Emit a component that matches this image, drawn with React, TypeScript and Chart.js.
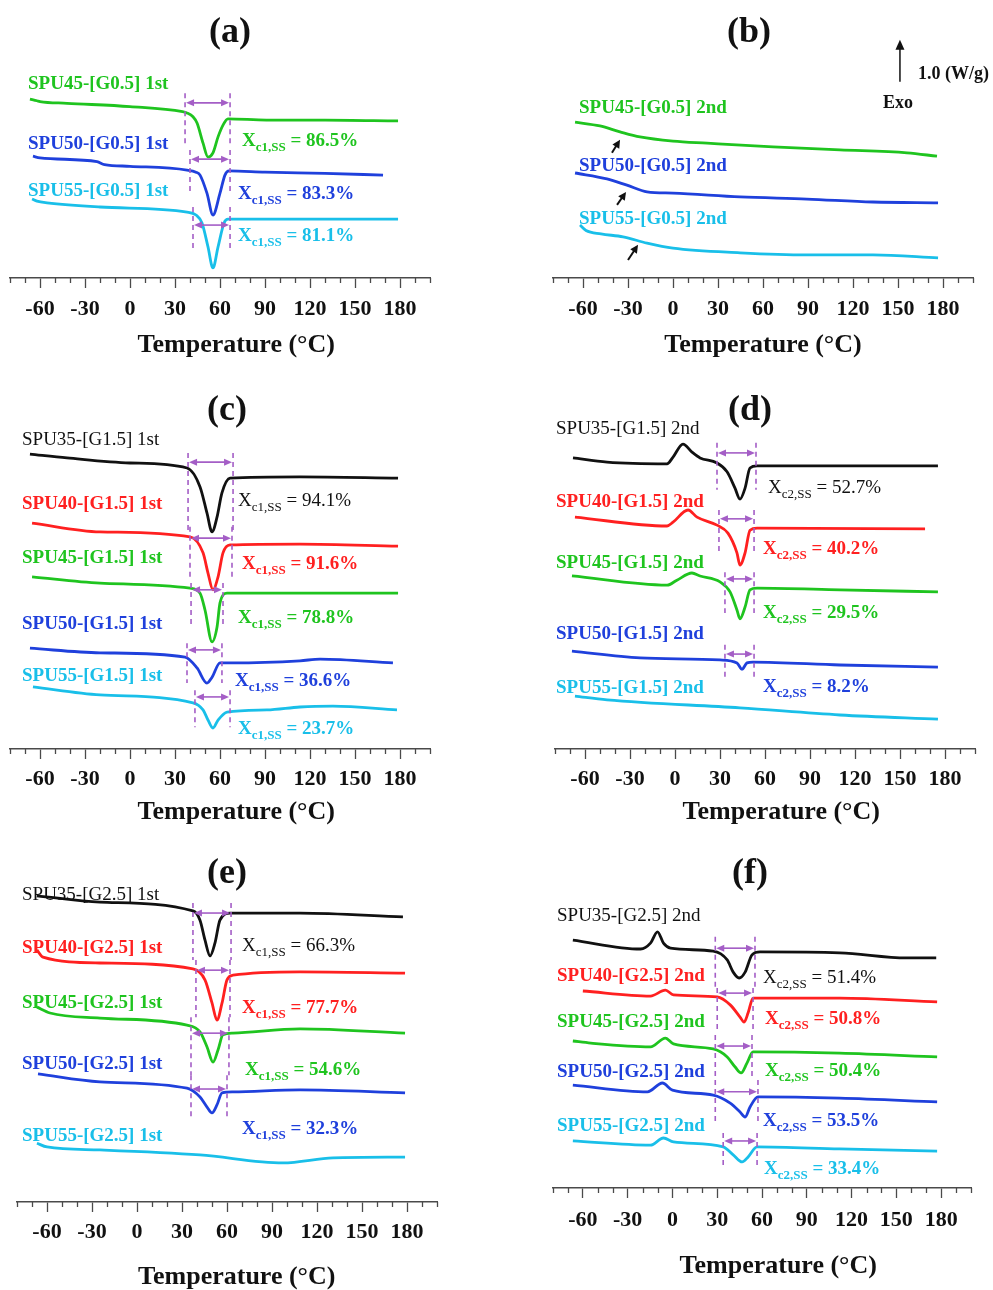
import React, { useEffect, useRef } from 'react';
import { Chart, registerables } from 'chart.js';

Chart.register(...registerables);

type Pt = [number, number];
// [T start, T end, top, bottom, arrow level]
type Range = [number, number, number, number, number];
// [tail T, tail value, head T, head value]
type Arrow = [number, number, number, number];

// ---------------- axis ----------------
const X_MIN = -80;
const X_MAX = 200;
const X_STEP = 10;
const X_TICK_LABELS = [-60, -30, 0, 30, 60, 90, 120, 150, 180];
const X_TITLE = 'Temperature (°C)';

// ---------------- (a) 1st heating, G0.5 ----------------
const A_SAMPLES = ['SPU45', 'SPU50', 'SPU55'];
const A_XC = [86.5, 83.3, 81.1];
const A_SPU45: Pt[] = [[-66.7, 4.26], [-62, 4.22], [-60, 4.2], [-42, 4.16], [0, 4.08], [35, 3.96], [38, 3.93], [42, 3.84], [44.7, 3.69], [48.7, 3.21], [52, 2.88], [55.3, 2.98], [58.7, 3.36], [62, 3.64], [65.3, 3.79], [91, 3.76], [130, 3.76], [178.7, 3.74]];
const A_SPU50: Pt[] = [[-64.7, 2.9], [-60, 2.86], [-22, 2.77], [-17, 2.7], [0, 2.66], [38, 2.57], [44, 2.52], [46.7, 2.45], [51.3, 2.02], [55.3, 1.5], [60, 2.02], [63.3, 2.45], [66, 2.55], [90, 2.52], [130, 2.49], [168.7, 2.45]];
const A_SPU55: Pt[] = [[-65.3, 1.88], [-62, 1.83], [-55.3, 1.79], [-20, 1.69], [38, 1.57], [44, 1.5], [48, 1.31], [52, 0.74], [55.3, 0.24], [58.7, 0.74], [62.7, 1.31], [65.3, 1.4], [100, 1.4], [178.7, 1.4]];
const A_RANGES: Range[] = [[36.7, 66.7, 4.4, 3.21, 4.17], [40, 66.7, 3.05, 2.02, 2.83], [42, 66.7, 1.69, 0.62, 1.26]];

// ---------------- (b) 2nd heating, G0.5 ----------------
const B_SAMPLES = ['SPU45', 'SPU50', 'SPU55'];
const B_SPU45: Pt[] = [[-65.3, 3.71], [-48.7, 3.62], [-35.3, 3.48], [-22, 3.36], [0, 3.26], [22.7, 3.21], [66.7, 3.12], [111.3, 3.05], [156, 2.98], [176, 2.9]];
const B_SPU50: Pt[] = [[-65.3, 2.5], [-44, 2.36], [-30.7, 2.21], [-17.3, 2.05], [0, 2.02], [44.7, 1.93], [89.3, 1.88], [133.3, 1.81], [176.7, 1.79]];
const B_SPU55: Pt[] = [[-62, 1.26], [-58, 1.13], [-48, 1.05], [-33.3, 0.98], [-17.3, 0.83], [0, 0.71], [44.7, 0.6], [89.3, 0.55], [133.3, 0.55], [176.7, 0.48]];
const B_TG_ARROWS: Arrow[] = [[-40.7, 2.98, -35.3, 3.29], [-37.3, 1.74, -31.3, 2.05], [-30, 0.43, -23.3, 0.79]];
const B_SCALE_BAR: Pt[] = [[151.3, 4.67], [151.3, 5.67]]; // 1.0 W/g, Exo up

// ---------------- (c) 1st heating, G1.5 ----------------
const C_SAMPLES = ['SPU35', 'SPU40', 'SPU45', 'SPU50', 'SPU55'];
const C_XC = [94.1, 91.6, 78.8, 36.6, 23.7];
const C_SPU35: Pt[] = [[-66.7, 7.02], [-42, 6.93], [0, 6.81], [38, 6.69], [46.7, 6.24], [51.3, 5.62], [54.7, 5.17], [58, 5.52], [61.3, 6.1], [66.7, 6.45], [113.3, 6.48], [178.7, 6.45]];
const C_SPU40: Pt[] = [[-65.3, 5.38], [-20, 5.17], [40, 5.05], [48.7, 4.67], [52, 4.19], [55.3, 3.79], [58.7, 4.1], [62, 4.67], [66.7, 4.86], [113.3, 4.88], [178.7, 4.83]];
const C_SPU45: Pt[] = [[-65.3, 4.1], [-20, 3.95], [40, 3.83], [46.7, 3.71], [50, 3.31], [54.7, 2.55], [58, 2.9], [60, 3.48], [64.7, 3.71], [113.3, 3.71], [178.7, 3.71]];
const C_SPU50: Pt[] = [[-66.7, 2.4], [-20, 2.29], [36.7, 2.19], [44.7, 1.93], [51.3, 1.57], [54.7, 1.71], [60, 2.05], [68.7, 2.05], [113.3, 2.1], [126.7, 2.14], [175.3, 2.05]];
const C_SPU55: Pt[] = [[-64.7, 1.48], [-20, 1.29], [42, 1.1], [48.7, 0.93], [52, 0.69], [55.3, 0.5], [58.7, 0.69], [64.7, 0.88], [91.3, 0.93], [113.3, 1.0], [135.3, 1.02], [178, 0.93]];
const C_RANGES: Range[] = [[38.7, 68.7, 7.05, 5.21, 6.83], [40, 68, 5.29, 4.1, 5.02], [40.7, 62, 3.95, 2.9, 3.79], [38, 61.3, 2.52, 1.57, 2.36], [43.3, 66.7, 1.4, 0.52, 1.24]];

// ---------------- (d) 2nd heating, G1.5 ----------------
const D_SAMPLES = ['SPU35', 'SPU40', 'SPU45', 'SPU50', 'SPU55'];
const D_XC = [52.7, 40.2, 29.5, 8.2];
const D_SPU35: Pt[] = [[-68, 6.93], [-45.3, 6.83], [-5.3, 6.79], [-1.3, 6.95], [5.3, 7.26], [11.3, 7.07], [16.7, 6.93], [28, 6.81], [34.7, 6.6], [40, 6.21], [43.3, 5.95], [46.7, 6.21], [50, 6.69], [54.7, 6.74], [175.3, 6.74]];
const D_SPU40: Pt[] = [[-66.7, 5.52], [-5.3, 5.31], [-1.3, 5.4], [8.7, 5.69], [14.7, 5.52], [28, 5.33], [35.3, 5.14], [41.3, 4.67], [43.3, 4.38], [46.7, 4.67], [50, 5.21], [54.7, 5.26], [166.7, 5.24]];
const D_SPU45: Pt[] = [[-68.7, 4.12], [-5.3, 3.9], [1.3, 4.02], [11.3, 4.19], [16.7, 4.12], [30, 3.98], [36.7, 3.74], [41.3, 3.31], [43.3, 3.1], [46.7, 3.38], [50, 3.79], [54.7, 3.83], [110, 3.79], [175.3, 3.74]];
const D_SPU50: Pt[] = [[-68.7, 2.33], [-23.3, 2.17], [30, 2.12], [41.3, 2.05], [44.7, 1.9], [48, 2.05], [52, 2.07], [110, 2.0], [175.3, 1.95]];
const D_SPU55: Pt[] = [[-66.7, 1.26], [-45.3, 1.17], [43.3, 0.98], [110, 0.81], [175.3, 0.71]];
const D_RANGES: Range[] = [[28, 54, 7.29, 6.17, 7.05], [29.3, 52.7, 5.69, 4.67, 5.48], [33.3, 52.7, 4.21, 3.24, 4.05], [33.3, 52.7, 2.48, 1.71, 2.26]];

// ---------------- (e) 1st heating, G2.5 ----------------
const E_SAMPLES = ['SPU35', 'SPU40', 'SPU45', 'SPU50', 'SPU55'];
const E_XC = [66.3, 77.7, 54.6, 32.3];
const E_SPU35: Pt[] = [[-66.7, 7.29], [-24.7, 7.14], [37.3, 6.93], [42, 6.71], [45.3, 6.24], [48.7, 5.86], [52, 6.17], [55.3, 6.71], [62, 6.88], [108.7, 6.88], [177.3, 6.79]];
const E_SPU40: Pt[] = [[-66.7, 6.0], [-62.7, 5.83], [-24.7, 5.69], [37.3, 5.55], [45.3, 5.29], [50, 4.74], [53.3, 4.33], [56.7, 4.74], [60, 5.29], [64, 5.4], [108.7, 5.48], [178.7, 5.45]];
const E_SPU45: Pt[] = [[-66.7, 4.64], [-58, 4.5], [-24.7, 4.38], [33.3, 4.21], [42, 4.05], [46.7, 3.69], [50.7, 3.33], [54, 3.62], [57.3, 3.98], [64, 4.02], [108.7, 4.12], [178.7, 4.02]];
const E_SPU50: Pt[] = [[-66, 3.05], [-24.7, 2.86], [33.3, 2.71], [42, 2.5], [46.7, 2.26], [50, 2.12], [53.3, 2.31], [56.7, 2.6], [64, 2.62], [108.7, 2.67], [178.7, 2.6]];
const E_SPU55: Pt[] = [[-66.7, 1.4], [-60, 1.31], [-24.7, 1.24], [42, 1.12], [97.3, 0.93], [130.7, 1.05], [178.7, 1.07]];
const E_RANGES: Range[] = [[37.3, 62.7, 7.12, 5.76, 6.88], [39.3, 62, 5.76, 4.4, 5.52], [36, 61.3, 4.4, 3.02, 4.02], [36, 60, 3.02, 2.02, 2.69]];

// ---------------- (f) 2nd heating, G2.5 ----------------
const F_SAMPLES = ['SPU35', 'SPU40', 'SPU45', 'SPU50', 'SPU55'];
const F_XC = [51.4, 50.8, 50.4, 53.5, 33.4];
const F_SPU35: Pt[] = [[-66.7, 5.9], [-21.3, 5.69], [-14.7, 5.83], [-10, 6.1], [-6, 5.83], [-1.3, 5.71], [27.3, 5.64], [36.7, 5.43], [40.7, 5.14], [44.7, 5.0], [48.7, 5.14], [53.3, 5.55], [58.7, 5.62], [112, 5.6], [156.7, 5.48], [176.7, 5.48]];
const F_SPU40: Pt[] = [[-60, 4.69], [-14.7, 4.57], [-4.7, 4.71], [0.7, 4.6], [30, 4.55], [38.7, 4.36], [45.3, 4.07], [48, 3.95], [50.7, 4.17], [54, 4.52], [112, 4.52], [177.3, 4.43]];
const F_SPU45: Pt[] = [[-66.7, 3.5], [-54.7, 3.45], [-14.7, 3.36], [-4.7, 3.57], [0.7, 3.43], [27.3, 3.31], [36.7, 3.12], [42, 2.88], [46, 2.74], [50, 2.98], [54, 3.24], [112, 3.21], [177.3, 3.12]];
const F_SPU50: Pt[] = [[-66.7, 2.45], [-16.7, 2.29], [-6.7, 2.5], [0, 2.33], [27.3, 2.21], [38.7, 2.02], [45.3, 1.81], [48.7, 1.69], [52, 1.93], [57.3, 2.17], [112, 2.14], [177.3, 2.05]];
const F_SPU55: Pt[] = [[-66.7, 1.12], [-14.7, 1.02], [-6, 1.19], [0.7, 1.1], [34, 0.98], [40.7, 0.79], [46.7, 0.62], [50.7, 0.74], [56.7, 0.98], [112, 0.93], [177.3, 0.88]];
const F_RANGES: Range[] = [[28.7, 55.3, 5.98, 4.71, 5.71], [30, 54, 4.76, 3.76, 4.64], [28.7, 53.3, 3.64, 2.64, 3.38], [28.7, 57.3, 2.57, 1.55, 2.29], [34, 56.7, 1.31, 0.55, 1.12]];

// ---------------- styles ----------------
const SERIF = '"Liberation Serif", "Times New Roman", serif';
const GREEN = '#1fc41f';
const BLUE = '#1f40dc';
const CYAN = '#19bfe9';
const RED = '#ff2020';
const BLACK = '#111111';
const PURPLE = '#a45ec6';
const AXIS = '#4a4a4a';
const TICK_FONT = 22;
const TITLE_FONT = 26;

interface TextItem {
  text: string;
  pre?: string;
  sub?: string;
  color: string;
  x: number;
  y: number;
  bold: boolean;
  size?: number;
  align?: 'left' | 'center';
}

interface PanelCfg {
  key: string;
  left: number;
  top: number;
  width: number;
  height: number;
  padL: number;
  padR: number;
  padT: number;
  yMax: number;
  tickPad: number;
  titlePadTop: number;
  titleSpaces: number;
  series: { data: Pt[]; color: string }[];
  ranges: Range[];
  arrows?: Arrow[];
  scaleBar?: Pt[];
  texts: TextItem[];
}

function names(samples: string[], grade: string, scan: string, colors: string[], x: number, ys: number[]): TextItem[] {
  return samples.map((s, i) => ({
    text: `${s}-[${grade}] ${scan}`,
    color: colors[i],
    x,
    y: ys[i],
    bold: colors[i] !== BLACK,
  }));
}

function xcLabels(values: number[], sub: string, colors: string[], pos: [number, number][]): TextItem[] {
  return values.map((v, i) => ({
    pre: 'X',
    sub,
    text: ` = ${v.toFixed(1)}%`,
    color: colors[i],
    x: pos[i][0],
    y: pos[i][1],
    bold: colors[i] !== BLACK,
  }));
}

const COL3 = [GREEN, BLUE, CYAN];
const COL5 = [BLACK, RED, GREEN, BLUE, CYAN];

const PANELS: PanelCfg[] = [
  {
    key: 'a', left: 0, top: 0, width: 460, height: 358, padL: 10, padR: 30, padT: 68, yMax: 5.0,
    tickPad: 10, titlePadTop: 2, titleSpaces: 5,
    series: [{ data: A_SPU45, color: GREEN }, { data: A_SPU50, color: BLUE }, { data: A_SPU55, color: CYAN }],
    ranges: A_RANGES,
    texts: [
      { text: '(a)', color: BLACK, x: 230, y: 30, bold: true, size: 36, align: 'center' },
      ...names(A_SAMPLES, 'G0.5', '1st', COL3, 28, [83, 143, 190]),
      ...xcLabels(A_XC, 'c1,SS', COL3, [[242, 140], [238, 193], [238, 235]]),
    ],
  },
  {
    key: 'b', left: 543, top: 0, width: 450, height: 358, padL: 10, padR: 20, padT: 68, yMax: 5.0,
    tickPad: 10, titlePadTop: 2, titleSpaces: 0,
    series: [{ data: B_SPU45, color: GREEN }, { data: B_SPU50, color: BLUE }, { data: B_SPU55, color: CYAN }],
    ranges: [],
    arrows: B_TG_ARROWS,
    scaleBar: B_SCALE_BAR,
    texts: [
      { text: '(b)', color: BLACK, x: 749, y: 30, bold: true, size: 36, align: 'center' },
      ...names(B_SAMPLES, 'G0.5', '2nd', COL3, 579, [107, 165, 218]),
      { text: '1.0 (W/g)', color: BLACK, x: 918, y: 73, bold: true, size: 18 },
      { text: 'Exo', color: BLACK, x: 898, y: 102, bold: true, size: 18, align: 'center' },
    ],
  },
  {
    key: 'c', left: 0, top: 370, width: 460, height: 455, padL: 10, padR: 30, padT: 43, yMax: 8.0,
    tickPad: 9, titlePadTop: 0, titleSpaces: 5,
    series: [{ data: C_SPU35, color: BLACK }, { data: C_SPU40, color: RED }, { data: C_SPU45, color: GREEN }, { data: C_SPU50, color: BLUE }, { data: C_SPU55, color: CYAN }],
    ranges: C_RANGES,
    texts: [
      { text: '(c)', color: BLACK, x: 227, y: 408, bold: true, size: 36, align: 'center' },
      ...names(C_SAMPLES, 'G1.5', '1st', COL5, 22, [439, 503, 557, 623, 675]),
      ...xcLabels(C_XC, 'c1,SS', COL5, [[238, 500], [242, 563], [238, 617], [235, 680], [238, 728]]),
    ],
  },
  {
    key: 'd', left: 545, top: 370, width: 440, height: 455, padL: 10, padR: 10, padT: 43, yMax: 8.0,
    tickPad: 9, titlePadTop: 0, titleSpaces: 5,
    series: [{ data: D_SPU35, color: BLACK }, { data: D_SPU40, color: RED }, { data: D_SPU45, color: GREEN }, { data: D_SPU50, color: BLUE }, { data: D_SPU55, color: CYAN }],
    ranges: D_RANGES,
    texts: [
      { text: '(d)', color: BLACK, x: 750, y: 408, bold: true, size: 36, align: 'center' },
      ...names(D_SAMPLES, 'G1.5', '2nd', COL5, 556, [428, 501, 562, 633, 687]),
      ...xcLabels(D_XC, 'c2,SS', COL5, [[768, 487], [763, 548], [763, 612], [763, 686]]),
    ],
  },
  {
    key: 'e', left: 7, top: 845, width: 460, height: 445, padL: 10, padR: 30, padT: 42, yMax: 7.5,
    tickPad: 9, titlePadTop: 12, titleSpaces: 3,
    series: [{ data: E_SPU35, color: BLACK }, { data: E_SPU40, color: RED }, { data: E_SPU45, color: GREEN }, { data: E_SPU50, color: BLUE }, { data: E_SPU55, color: CYAN }],
    ranges: E_RANGES,
    texts: [
      { text: '(e)', color: BLACK, x: 227, y: 871, bold: true, size: 36, align: 'center' },
      ...names(E_SAMPLES, 'G2.5', '1st', COL5, 22, [894, 947, 1002, 1063, 1135]),
      ...xcLabels(E_XC, 'c1,SS', COL5, [[242, 945], [242, 1007], [245, 1069], [242, 1128]]),
    ],
  },
  {
    key: 'f', left: 542, top: 845, width: 440, height: 434, padL: 10, padR: 10, padT: 49, yMax: 7.0,
    tickPad: 11, titlePadTop: 11, titleSpaces: 5,
    series: [{ data: F_SPU35, color: BLACK }, { data: F_SPU40, color: RED }, { data: F_SPU45, color: GREEN }, { data: F_SPU50, color: BLUE }, { data: F_SPU55, color: CYAN }],
    ranges: F_RANGES,
    texts: [
      { text: '(f)', color: BLACK, x: 750, y: 871, bold: true, size: 36, align: 'center' },
      ...names(F_SAMPLES, 'G2.5', '2nd', COL5, 557, [915, 975, 1021, 1071, 1125]),
      ...xcLabels(F_XC, 'c2,SS', COL5, [[763, 977], [765, 1018], [765, 1070], [763, 1120], [764, 1168]]),
    ],
  },
];

const isMajor = (v: unknown) => typeof v === 'number' && X_TICK_LABELS.includes(Math.round(v));

function arrowHead(ctx: CanvasRenderingContext2D, x: number, y: number, ang: number, len: number, half: number) {
  const c = Math.cos(ang);
  const s = Math.sin(ang);
  ctx.beginPath();
  ctx.moveTo(x, y);
  ctx.lineTo(x - len * c + half * s, y - len * s - half * c);
  ctx.lineTo(x - len * c - half * s, y - len * s + half * c);
  ctx.closePath();
  ctx.fill();
}

function drawText(ctx: CanvasRenderingContext2D, t: TextItem, ox: number, oy: number) {
  const w = t.bold ? 'bold ' : '';
  const size = t.size ?? 19;
  ctx.save();
  ctx.fillStyle = t.color;
  ctx.textBaseline = 'alphabetic';
  const base = t.y - oy + size * 0.33;
  let x = t.x - ox;
  ctx.font = `${w}${size}px ${SERIF}`;
  if (t.align === 'center') {
    ctx.textAlign = 'center';
    ctx.fillText(t.text, x, base);
    ctx.restore();
    return;
  }
  ctx.textAlign = 'left';
  if (t.pre) {
    ctx.fillText(t.pre, x, base);
    x += ctx.measureText(t.pre).width;
  }
  if (t.sub) {
    ctx.font = `${w}${Math.round(size * 0.68)}px ${SERIF}`;
    ctx.fillText(t.sub, x, base + size * 0.25);
    x += ctx.measureText(t.sub).width;
    ctx.font = `${w}${size}px ${SERIF}`;
  }
  ctx.fillText(t.text, x, base);
  ctx.restore();
}

function makeDecor(p: PanelCfg) {
  return {
    id: 'decor_' + p.key,
    afterDraw(chart: any) {
      const ctx: CanvasRenderingContext2D = chart.ctx;
      const xs = chart.scales.x;
      const ys = chart.scales.y;
      ctx.save();
      // minor ticks
      ctx.strokeStyle = AXIS;
      ctx.lineWidth = 1.3;
      xs.ticks.forEach((t: any) => {
        if (isMajor(t.value)) return;
        const px = Math.round(xs.getPixelForValue(t.value)) + 0.5;
        ctx.beginPath();
        ctx.moveTo(px, xs.top);
        ctx.lineTo(px, xs.top + 5);
        ctx.stroke();
      });
      // crystallisation integration ranges
      p.ranges.forEach(([t1, t2, vt, vb, va]) => {
        const x1 = xs.getPixelForValue(t1);
        const x2 = xs.getPixelForValue(t2);
        const yt = ys.getPixelForValue(vt);
        const yb = ys.getPixelForValue(vb);
        const ya = ys.getPixelForValue(va);
        ctx.strokeStyle = PURPLE;
        ctx.fillStyle = PURPLE;
        ctx.lineWidth = 1.6;
        ctx.setLineDash([5, 4]);
        ctx.beginPath();
        ctx.moveTo(x1, yt);
        ctx.lineTo(x1, yb);
        ctx.moveTo(x2, yt);
        ctx.lineTo(x2, yb);
        ctx.stroke();
        ctx.setLineDash([]);
        ctx.beginPath();
        ctx.moveTo(x1 + 4, ya);
        ctx.lineTo(x2 - 4, ya);
        ctx.stroke();
        arrowHead(ctx, x1 + 1, ya, Math.PI, 8, 3.5);
        arrowHead(ctx, x2 - 1, ya, 0, 8, 3.5);
      });
      // small Tg arrows
      (p.arrows || []).forEach(([tx, tv, hx, hv]) => {
        const x1 = xs.getPixelForValue(tx);
        const y1 = ys.getPixelForValue(tv);
        const x2 = xs.getPixelForValue(hx);
        const y2 = ys.getPixelForValue(hv);
        const ang = Math.atan2(y2 - y1, x2 - x1);
        ctx.strokeStyle = BLACK;
        ctx.fillStyle = BLACK;
        ctx.lineWidth = 2;
        ctx.beginPath();
        ctx.moveTo(x1, y1);
        ctx.lineTo(x2 - 5 * Math.cos(ang), y2 - 5 * Math.sin(ang));
        ctx.stroke();
        arrowHead(ctx, x2, y2, ang, 8, 4);
      });
      // Exo scale bar
      if (p.scaleBar) {
        const [[t0, v0], [t1, v1]] = p.scaleBar;
        const x0 = xs.getPixelForValue(t0);
        const y0 = ys.getPixelForValue(v0);
        const x1 = xs.getPixelForValue(t1);
        const y1 = ys.getPixelForValue(v1);
        ctx.strokeStyle = BLACK;
        ctx.fillStyle = BLACK;
        ctx.lineWidth = 1.5;
        ctx.beginPath();
        ctx.moveTo(x0, y0);
        ctx.lineTo(x1, y1 + 6);
        ctx.stroke();
        arrowHead(ctx, x1, y1, -Math.PI / 2, 10, 4.5);
      }
      ctx.restore();
      p.texts.forEach((t) => drawText(ctx, t, p.left, p.top));
    },
  };
}

function buildConfig(p: PanelCfg): any {
  return {
    type: 'line',
    data: {
      datasets: p.series.map((s) => ({
        data: s.data.map(([x, y]) => ({ x, y })),
        borderColor: s.color,
        borderWidth: 2.8,
        pointRadius: 0,
        fill: false,
        cubicInterpolationMode: 'monotone',
        clip: false,
      })),
    },
    options: {
      responsive: false,
      maintainAspectRatio: false,
      animation: false,
      devicePixelRatio: 1,
      events: [],
      layout: { padding: { left: p.padL, right: p.padR, top: p.padT, bottom: 0 } },
      plugins: {
        legend: { display: false },
        tooltip: { enabled: false },
        title: { display: false },
      },
      scales: {
        x: {
          type: 'linear',
          position: 'bottom',
          min: X_MIN,
          max: X_MAX,
          border: { display: true, color: AXIS, width: 1.5 },
          grid: {
            display: true,
            drawOnChartArea: false,
            drawTicks: true,
            tickLength: 10,
            tickWidth: 1.3,
            tickColor: (c: any) => (isMajor(c.tick && c.tick.value) ? AXIS : 'rgba(0,0,0,0)'),
          },
          ticks: {
            stepSize: X_STEP,
            maxTicksLimit: 100,
            autoSkip: false,
            maxRotation: 0,
            minRotation: 0,
            padding: p.tickPad,
            color: '#111',
            font: { family: SERIF, size: TICK_FONT, weight: 'bold', lineHeight: 1 },
            callback: (v: any) => (isMajor(v) ? String(Math.round(v)) : ''),
          },
          title: {
            display: true,
            text: ' '.repeat(p.titleSpaces) + X_TITLE,
            color: '#111',
            font: { family: SERIF, size: TITLE_FONT, weight: 'bold', lineHeight: 1 },
            padding: { top: p.titlePadTop, bottom: 0 },
          },
        },
        y: { type: 'linear', display: false, min: 0, max: p.yMax },
      },
    },
    plugins: [makeDecor(p)],
  };
}

function Panel({ p }: { p: PanelCfg }) {
  const ref = useRef<HTMLCanvasElement>(null);
  useEffect(() => {
    if (!ref.current) return;
    const chart = new Chart(ref.current, buildConfig(p));
    return () => chart.destroy();
  }, [p]);
  return (
    <canvas
      ref={ref}
      width={p.width}
      height={p.height}
      style={{ position: 'absolute', left: p.left, top: p.top, width: p.width, height: p.height }}
    />
  );
}

export default function App() {
  return (
    <div style={{ position: 'absolute', left: 0, top: 0, width: 993, height: 1290, background: '#ffffff', overflow: 'hidden' }}>
      {PANELS.map((p) => (
        <Panel key={p.key} p={p} />
      ))}
    </div>
  );
}
